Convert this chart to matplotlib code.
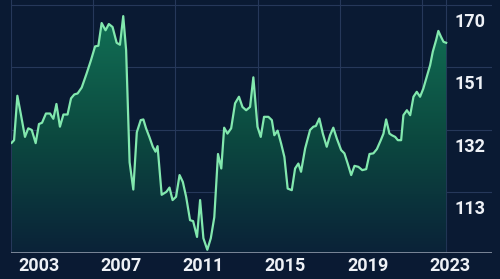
import numpy as np
import matplotlib
matplotlib.use("Agg")
from matplotlib import pyplot as plt
from matplotlib import transforms as mtrans
from matplotlib.colors import LinearSegmentedColormap

# fractional year of each point
dates = [2003.03, 2003.15, 2003.31, 2003.47, 2003.68, 2003.84, 2004.01, 2004.20, 2004.36, 2004.51,
         2004.70, 2004.90, 2005.06, 2005.21, 2005.38, 2005.55, 2005.75, 2005.92, 2006.08, 2006.24,
         2006.44, 2006.68, 2006.89, 2007.09, 2007.25, 2007.41, 2007.60, 2007.76, 2007.94, 2008.14,
         2008.30, 2008.46, 2008.60, 2008.77, 2008.95, 2009.12, 2009.31, 2009.44, 2009.57, 2009.73,
         2009.90, 2010.03, 2010.13, 2010.33, 2010.56, 2010.71, 2010.86, 2011.03, 2011.20, 2011.36,
         2011.52, 2011.71, 2011.86, 2012.05, 2012.20, 2012.36, 2012.55, 2012.72, 2012.89, 2013.07,
         2013.23, 2013.37, 2013.53, 2013.71, 2013.90, 2014.09, 2014.26, 2014.44, 2014.63, 2014.79,
         2014.99, 2015.15, 2015.31, 2015.52, 2015.69, 2015.81, 2015.97, 2016.14, 2016.30, 2016.46,
         2016.66, 2016.82, 2016.98, 2017.11, 2017.31, 2017.55, 2017.71, 2017.83, 2018.00, 2018.17,
         2018.36, 2018.52, 2018.68, 2018.85, 2019.06, 2019.22, 2019.38, 2019.55, 2019.71, 2019.90,
         2020.09, 2020.28, 2020.44, 2020.63, 2020.80, 2020.99, 2021.12, 2021.25, 2021.41, 2021.53,
         2021.69, 2021.82, 2021.98, 2022.09, 2022.26, 2022.42, 2022.58, 2022.74, 2022.90, 2023.06,
         2023.23, 2023.39, 2023.52, 2023.68, 2023.79, 2023.92, 2024.04, 2024.17]

values = [128.0, 128.8, 142.3, 137.0, 129.8, 132.4, 131.9, 127.9, 133.7, 134.1,
          136.9, 136.9, 135.3, 139.8, 132.9, 136.6, 136.6, 141.5, 142.7, 143.0,
          144.8, 149.1, 153.1, 157.3, 157.5, 164.4, 162.2, 164.1, 163.2, 158.4,
          157.8, 166.5, 156.2, 122.1, 113.8, 131.2, 134.9, 135.1, 132.4, 129.8,
          126.8, 125.3, 127.0, 112.2, 113.1, 114.4, 110.6, 111.6, 118.2, 116.1,
          111.6, 104.5, 104.2, 99.4, 110.6, 99.0, 95.5, 99.0, 105.4, 124.6,
          120.2, 132.6, 130.8, 132.4, 140.0, 142.0, 138.9, 137.9, 138.9, 147.9,
          132.9, 129.8, 135.9, 135.9, 134.9, 130.3, 131.7, 127.8, 123.7, 114.1,
          113.6, 120.2, 121.7, 119.2, 126.3, 131.9, 132.9, 133.1, 135.4, 130.8,
          126.8, 130.3, 132.6, 129.3, 125.8, 124.8, 121.7, 118.2, 121.0, 120.7,
          119.7, 120.0, 124.6, 124.8, 126.1, 128.8, 130.8, 135.1, 130.8, 130.3,
          129.8, 128.8, 128.8, 136.4, 137.9, 136.4, 142.0, 143.5, 142.0, 144.5,
          148.1, 151.6, 155.7, 159.2, 162.0, 160.2, 158.7, 158.4]

year_ticks = [2003, 2007, 2011, 2015, 2019, 2023]
value_ticks = [113, 132, 151, 170]

BG = "#0a1a33"
LINE = "#82e8ae"
GRID = "#26385a"
TEXT = "#eef1f6"

fig = plt.figure(figsize=(5.0, 2.79), dpi=100, facecolor=BG)
ax = fig.add_axes([0.022, 0.093, 0.962, 0.907], facecolor=BG)

x0, x1 = 2003.0, 2026.4
y0, y1 = 94.5, 171.4
ax.set_xlim(x0, x1)
ax.set_ylim(y0, y1)

# grid
for yv in value_ticks:
    ax.axhline(yv, color=GRID, lw=0.8, zorder=1)
for yr in year_ticks:
    ax.axvline(yr, color=GRID, lw=0.8, zorder=1)
ax.axvline(dates[-1], color=GRID, lw=0.8, zorder=1)

# gradient fill under the line
grad = np.linspace(0, 1, 256).reshape(-1, 1)
cmap = LinearSegmentedColormap.from_list("g", ["#0a2238", "#0c4a40", "#117055"])
top = max(values)
img = ax.imshow(grad, cmap=cmap, origin="lower", aspect="auto",
                extent=[dates[0], dates[-1], y0, top], zorder=2)
poly = ax.fill_between(dates, values, y0, color="none", lw=0)
clip = poly.get_paths()[0]
img.set_clip_path(clip, ax.transData)

ax.plot(dates, values, color=LINE, lw=1.6, solid_joinstyle="round", zorder=3)

# bottom axis line
ax.axhline(y0, color="#8d97a8", lw=1.2, zorder=4)

for s in ax.spines.values():
    s.set_visible(False)
ax.set_xticks([])
ax.set_yticks([])

font = dict(family="Roboto", fontsize=13, fontweight="bold", color=TEXT)

for yr in year_ticks:
    tr = mtrans.offset_copy(ax.get_xaxis_transform(), fig=fig, x=7, y=-13, units="dots")
    ax.text(yr, 0, str(yr), transform=tr, ha="left", va="center", clip_on=False, **font)

for yv in value_ticks:
    tr = mtrans.offset_copy(ax.get_yaxis_transform(), fig=fig, x=0, y=-17, units="dots")
    ax.text(0.921, yv, str(yv), transform=tr, ha="left", va="center", clip_on=False, **font)

fig.savefig("out.png", dpi=100, facecolor=BG)
